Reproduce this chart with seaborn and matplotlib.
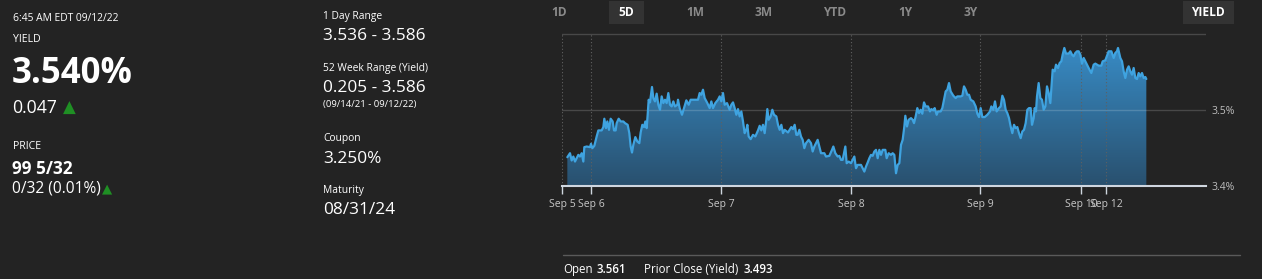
import numpy as np
import pandas as pd
import matplotlib
matplotlib.use("Agg")
import matplotlib.pyplot as plt
import seaborn as sns
from matplotlib.colors import LinearSegmentedColormap
from matplotlib.patches import Rectangle
from matplotlib.lines import Line2D

# ---------------- data ----------------
# x: trading-session minutes since the "Sep 5" axis tick (390 minutes per session)
session_minute = [
    16, 24, 29, 34, 39, 44, 49, 54, 59, 64, 67, 74, 84, 87, 91, 97, 104, 109, 119, 124,
    127, 132, 136, 141, 146, 152, 156, 161, 164, 170, 176, 184, 189, 197, 202, 206, 210, 214, 220, 226,
    232, 236, 241, 246, 250, 254, 257, 260, 264, 270, 274, 279, 284, 289, 294, 299, 304, 309, 314, 319,
    324, 329, 334, 339, 346, 348, 353, 360, 366, 373, 380, 386, 398, 408, 413, 418, 423, 428, 436, 443,
    448, 453, 460, 468, 473, 478, 483, 488, 495, 503, 508, 513, 518, 523, 528, 533, 538, 543, 548, 553,
    556, 560, 566, 573, 580, 588, 593, 598, 603, 608, 613, 616, 620, 626, 631, 636, 643, 648, 653, 658,
    663, 668, 678, 683, 688, 693, 698, 703, 707, 712, 717, 722, 727, 732, 740, 747, 752, 757, 762, 767,
    772, 777, 787, 792, 802, 810, 814, 820, 827, 832, 837, 842, 850, 854, 860, 867, 872, 877, 882, 887,
    897, 902, 907, 912, 917, 922, 927, 932, 937, 942, 947, 952, 957, 962, 970, 974, 980, 987, 992, 997,
    1000, 1002, 1007, 1012, 1017, 1022, 1027, 1030, 1035, 1040, 1047, 1052, 1056, 1061, 1066, 1071, 1076, 1081, 1086, 1091,
    1098, 1104, 1108, 1114, 1118, 1124, 1128, 1136, 1141, 1146, 1151, 1156, 1161, 1166, 1174, 1181, 1186, 1196, 1201, 1206,
    1211, 1216, 1221, 1226, 1234, 1241, 1246, 1251, 1256, 1261, 1268, 1276, 1284, 1288, 1294, 1299, 1304, 1311, 1316, 1321,
    1326, 1331, 1336, 1341, 1346, 1351, 1356, 1361, 1366, 1371, 1376, 1381, 1386, 1391, 1396, 1401, 1406, 1410, 1415, 1418,
    1422, 1425, 1430, 1435, 1440, 1445, 1450, 1455, 1460, 1465, 1468, 1472, 1478, 1482, 1488, 1493, 1498, 1502, 1507, 1512,
    1520, 1525, 1530, 1535, 1540, 1545, 1550, 1555, 1560, 1565, 1570, 1575, 1580, 1588, 1595, 1600, 1610, 1618, 1622, 1630,
    1635, 1640, 1648, 1655, 1660, 1665, 1668, 1675, 1680, 1685, 1690, 1695, 1700, 1705, 1710, 1715, 1720, 1725, 1730, 1735,
    1740, 1745, 1750, 1753,
]
yield_pct = [
    3.4379, 3.4432, 3.4336, 3.4388, 3.4322, 3.4366, 3.4410, 3.4388, 3.4432, 3.4322, 3.4512, 3.4520, 3.4512, 3.4556, 3.4498, 3.4529, 3.4652, 3.4732, 3.4732, 3.4776,
    3.4886, 3.4762, 3.4850, 3.4740, 3.4886, 3.4850, 3.4732, 3.4732, 3.4828, 3.4886, 3.4850, 3.4850, 3.4828, 3.4806, 3.4696, 3.4520, 3.4441, 3.4542, 3.4644, 3.4586,
    3.4564, 3.4705, 3.4806, 3.4776, 3.4850, 3.4762, 3.4938, 3.5136, 3.5101, 3.5304, 3.5158, 3.5114, 3.5216, 3.5070, 3.5004, 3.5180, 3.5092, 3.5136, 3.5092, 3.5224,
    3.5070, 3.5048, 3.5114, 3.5048, 3.5070, 3.5136, 3.5026, 3.4938, 3.5026, 3.5128, 3.5070, 3.5136, 3.5136, 3.5136, 3.5224, 3.5202, 3.5268, 3.5158, 3.5092, 3.5026,
    3.5114, 3.5026, 3.5092, 3.5136, 3.5180, 3.5114, 3.5224, 3.5070, 3.5092, 3.5004, 3.5070, 3.5101, 3.5026, 3.4938, 3.5013, 3.4916, 3.4982, 3.4850, 3.4696, 3.4740,
    3.4806, 3.4652, 3.4617, 3.4674, 3.4652, 3.4732, 3.4793, 3.4732, 3.4806, 3.4696, 3.4872, 3.5013, 3.4872, 3.4916, 3.5004, 3.4938, 3.4916, 3.4806, 3.4740, 3.4806,
    3.4696, 3.4740, 3.4705, 3.4740, 3.4776, 3.4749, 3.4806, 3.4674, 3.4674, 3.4740, 3.4652, 3.4608, 3.4498, 3.4564, 3.4608, 3.4564, 3.4454, 3.4520, 3.4564, 3.4608,
    3.4520, 3.4432, 3.4432, 3.4388, 3.4397, 3.4476, 3.4520, 3.4432, 3.4388, 3.4397, 3.4344, 3.4344, 3.4520, 3.4300, 3.4322, 3.4300, 3.4344, 3.4388, 3.4234, 3.4278,
    3.4278, 3.4234, 3.4190, 3.4256, 3.4309, 3.4366, 3.4410, 3.4397, 3.4454, 3.4476, 3.4366, 3.4476, 3.4410, 3.4476, 3.4476, 3.4366, 3.4432, 3.4410, 3.4432, 3.4410,
    3.4256, 3.4168, 3.4278, 3.4300, 3.4542, 3.4608, 3.4784, 3.4925, 3.4784, 3.4872, 3.4894, 3.4872, 3.4828, 3.4916, 3.5026, 3.4960, 3.5004, 3.4952, 3.5101, 3.5048,
    3.5048, 3.4982, 3.5013, 3.4996, 3.5026, 3.4938, 3.4982, 3.4982, 3.5026, 3.5136, 3.5246, 3.5268, 3.5356, 3.5246, 3.5189, 3.5158, 3.5180, 3.5180, 3.5189, 3.5312,
    3.5268, 3.5202, 3.5202, 3.5136, 3.5114, 3.5048, 3.4952, 3.4908, 3.5026, 3.4908, 3.4908, 3.4938, 3.4982, 3.5048, 3.5004, 3.5114, 3.4982, 3.5026, 3.5048, 3.5189,
    3.5136, 3.5004, 3.4960, 3.4894, 3.4784, 3.4696, 3.4806, 3.4762, 3.4776, 3.4696, 3.4630, 3.4718, 3.4740, 3.4828, 3.5004, 3.5026, 3.5026, 3.4806, 3.4894, 3.5026,
    3.4982, 3.5180, 3.5356, 3.5158, 3.5136, 3.5004, 3.5048, 3.5312, 3.5224, 3.5092, 3.5290, 3.5532, 3.5510, 3.5598, 3.5554, 3.5620, 3.5642, 3.5730, 3.5818, 3.5744,
    3.5744, 3.5774, 3.5730, 3.5708, 3.5752, 3.5774, 3.5774, 3.5730, 3.5612, 3.5686, 3.5642, 3.5598, 3.5554, 3.5488, 3.5598, 3.5612, 3.5585, 3.5585, 3.5642, 3.5656,
    3.5717, 3.5774, 3.5774, 3.5686, 3.5752, 3.5774, 3.5818, 3.5686, 3.5642, 3.5510, 3.5422, 3.5532, 3.5576, 3.5510, 3.5466, 3.5554, 3.5422, 3.5409, 3.5488, 3.5444,
    3.5488, 3.5422, 3.5436, 3.5409,
]
tick_pos = [0, 88, 478, 868, 1255, 1558, 1633]
tick_labels = ["Sep 5", "Sep 6", "Sep 7", "Sep 8", "Sep 9", "Sep 10", "Sep 12"]
y_ticks = [3.4, 3.5, 3.6]
y_tick_labels = ["3.4%", "3.5%", ""]
range_buttons = ["1D", "5D", "1M", "3M", "YTD", "1Y", "3Y"]
selected_range = "5D"

# ---------------- style ----------------
sns.set_theme(style="dark")
plt.rcParams["font.family"] = ["Open Sans", "DejaVu Sans"]
BG = "#232323"
W, H = 1262, 279

fig = plt.figure(figsize=(W / 100, H / 100), dpi=100, facecolor=BG)
ax = fig.add_axes([562 / W, 1 - 186 / H, (1206 - 562) / W, (186 - 33) / H])
ax.set_facecolor(BG)

df = pd.DataFrame({"minute": session_minute, "yield": yield_pct})

# gradient area under the line
fill = ax.fill_between(df["minute"], df["yield"], 3.4, facecolor="none", edgecolor="none")
grad = np.linspace(0, 1, 256).reshape(-1, 1)
cmap = LinearSegmentedColormap.from_list("area", ["#29506e", "#3990cc"])
im = ax.imshow(grad, extent=[0, 1932, 3.4, 3.6], origin="lower", aspect="auto",
               cmap=cmap, zorder=1, interpolation="bilinear")
im.set_clip_path(fill.get_paths()[0], transform=ax.transData)

sns.lineplot(data=df, x="minute", y="yield", ax=ax, color="#3fa3e0", linewidth=1.6, zorder=3)

ax.set_xlim(0, 1932)
ax.set_ylim(3.4, 3.6015)
ax.set_xlabel("")
ax.set_ylabel("")

ax.set_xticks(tick_pos, tick_labels)
ax.yaxis.tick_right()
ax.set_yticks(y_ticks, y_tick_labels)
ax.set_axisbelow(False)
ax.grid(axis="x", color="#606060", alpha=1.0, linestyle=(0, (1, 2)), linewidth=0.8)
ax.grid(axis="y", color="white", alpha=0.17, linestyle="-", linewidth=1.0)

for s in ["left", "right", "top"]:
    ax.spines[s].set_visible(False)
ax.spines["bottom"].set_color("#cfd6df")
ax.spines["bottom"].set_linewidth(1.5)
ax.spines["bottom"].set_zorder(4)

ax.tick_params(axis="x", bottom=True, length=6, width=1, color="#cfd6df",
               labelcolor="#c8c8c8", labelsize=7.5, pad=3, direction="out")
ax.tick_params(axis="y", length=0, labelcolor="#bdbdbd", labelsize=7.5, pad=4,
               right=True, left=False, labelright=True, labelleft=False)


def T(x, y, s, size, weight="normal", color="white", ha="left", va="baseline", **kw):
    fig.text(x / W, 1 - y / H, s, fontsize=size, fontweight=weight, color=color,
             ha=ha, va=va, **kw)


GREEN = "#1f8f24"
# left column
T(13, 20.7, "6:45 AM EDT 09/12/22", 7.4)
T(13, 41.7, "YIELD", 7.6)
T(12, 82.7, "3.540%", 25, "bold")
T(12, 113.3, "0.047", 12.7)
T(63, 113.3, "▲", 12.0, color=GREEN, family="DejaVu Sans")
T(13, 149, "PRICE", 7.6)
T(12, 174.3, "99 5/32", 12.4, "bold")
T(12, 192.7, "0/32 (0.01%)", 11.2)
T(102, 192.7, "▲", 9.5, color=GREEN, family="DejaVu Sans")

# middle column
T(323, 19, "1 Day Range", 7.4)
T(323, 40, "3.536 - 3.586", 12.4)
T(323, 71, "52 Week Range (Yield)", 7.4)
T(323, 92.3, "0.205 - 3.586", 12.4)
T(323, 106.7, "(09/14/21 - 09/12/22)", 6.8)
T(323, 140.7, "Coupon", 7.4)
T(323, 162.7, "3.250%", 12.4)
T(323, 192.7, "Maturity", 7.4)
T(323, 214.3, "08/31/24", 12.4)

# range buttons
btn_x = [559, 626, 695, 764, 835, 905, 971]
fig.patches.append(Rectangle((609 / W, 1 - 24 / H), 35 / W, 23 / H, transform=fig.transFigure,
                             facecolor="#333333", edgecolor="none"))
fig.patches.append(Rectangle((1183 / W, 1 - 24 / H), 51 / W, 23 / H, transform=fig.transFigure,
                             facecolor="#333333", edgecolor="none"))
for lbl, bx in zip(range_buttons, btn_x):
    sel = lbl == selected_range
    T(bx, 12.5, lbl, 8.6, "bold", color="white" if sel else "#8a8a8a", ha="center", va="center")
T(1208, 12.5, "YIELD", 8.6, "bold", ha="center", va="center")

# bottom stats bar
fig.add_artist(Line2D([563 / W, 1240 / W], [1 - 255 / H, 1 - 255 / H], color="#5a5a5a", lw=1))
T(563, 272.7, "Open", 8.3)
T(597, 272.7, "3.561", 8.3, "semibold")
T(644, 272.7, "Prior Close (Yield)", 8.3)
T(744, 272.7, "3.493", 8.3, "semibold")

fig.savefig("out.png", dpi=100, facecolor=BG)
